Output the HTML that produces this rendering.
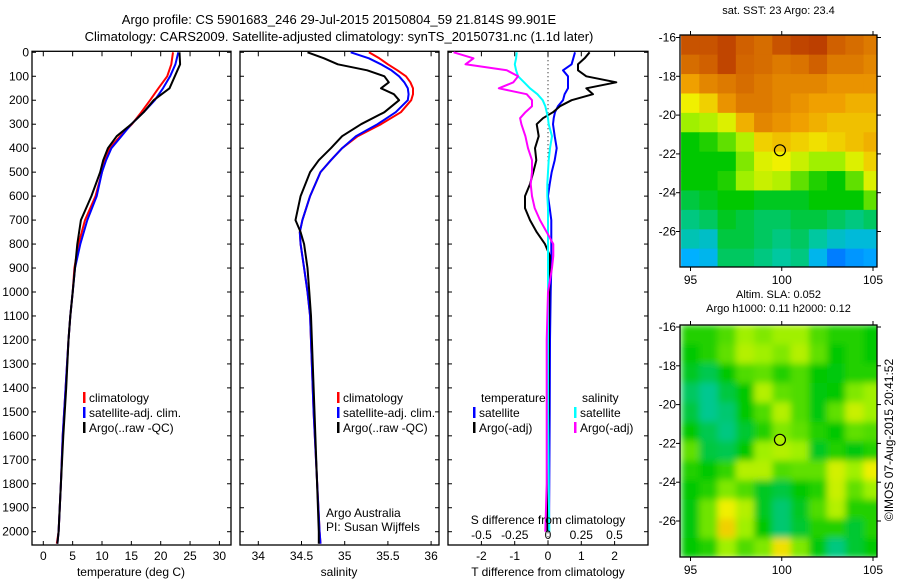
<!DOCTYPE html>
<html><head><meta charset="utf-8">
<style>
html,body{margin:0;padding:0;background:#fff;}
svg{display:block;font-family:"Liberation Sans",sans-serif;}
</style></head>
<body>
<svg id="chart" width="900" height="580" viewBox="0 0 900 580"></svg>
<script>
// ---- data ----
const tDepths = [0,50,100,150,200,250,300,350,400,450,500,600,700,800,900,1000,1100,1200,1400,1600,1800,2000,2050];
const tempClim = [22.1,21.8,21.1,19.6,18.2,16.7,15.1,13.1,11.3,10.5,10.0,8.9,7.1,6.0,5.3,5.0,4.6,4.3,3.8,3.3,3.0,2.6,2.3];
const tempSat  = [23.0,22.5,21.6,20.4,19.0,17.1,15.0,13.3,11.6,10.7,10.0,9.1,7.5,6.3,5.4,5.0,4.6,4.3,3.8,3.3,3.0,2.6,2.4];
const tempArgo = [23.2,23.3,22.4,21.5,18.8,17.1,15.0,12.5,11.0,10.2,9.7,8.2,6.4,5.8,5.4,5.0,4.6,4.3,3.9,3.4,3.0,2.6,2.4];

const sDepths = [0,25,50,75,100,125,150,175,200,250,300,350,400,450,500,600,700,750,800,900,1000,1100,1500,2000,2050];
const salClim = [35.28,35.40,35.50,35.61,35.71,35.76,35.79,35.79,35.77,35.65,35.42,35.15,34.97,34.84,34.72,34.60,34.51,34.48,34.49,34.53,34.57,34.60,34.64,34.71,34.72];
const salSat  = [35.07,35.28,35.42,35.54,35.63,35.69,35.73,35.74,35.73,35.59,35.38,35.13,34.97,34.84,34.72,34.60,34.51,34.48,34.49,34.53,34.57,34.60,34.64,34.71,34.72];
const salArgo = [34.57,34.76,34.92,35.26,35.46,35.51,35.42,35.57,35.63,35.46,35.19,34.97,34.84,34.70,34.60,34.49,34.43,34.49,34.53,34.57,34.59,34.61,34.65,34.70,34.70];

const dDepths = [0,25,50,75,100,125,150,175,200,225,250,275,300,350,400,450,500,550,600,650,700,750,800,850,900,1000,1200,1500,1800,2000];
const tDiffSat  = [0.81,0.76,0.71,0.45,0.6,0.6,0.6,0.5,0.45,0.3,0.21,0.17,0.15,0.2,0.26,0.2,0.11,0.05,0.0,0.05,0.1,0.1,0.1,0.1,0.1,0.08,0.06,0.05,0.04,0.03];
const tDiffArgo = [1.25,1.1,0.9,0.9,1.15,2.05,1.15,1.35,0.71,0.36,0.15,-0.15,-0.34,-0.28,-0.39,-0.35,-0.44,-0.54,-0.69,-0.69,-0.54,-0.34,-0.09,0.06,0.05,0.04,0.03,0.02,0.0,-0.02];
const sDiffSat  = [-0.235,-0.24,-0.25,-0.24,-0.225,-0.18,-0.135,-0.08,-0.04,-0.02,-0.01,0.0,0.005,0.03,0.015,0.005,0,-0.005,-0.005,0,0,0,0,0,0,0,0,0,0.005,0.01];
const sDiffArgo = [-0.71,-0.56,-0.62,-0.31,-0.225,-0.26,-0.37,-0.16,-0.12,-0.12,-0.17,-0.21,-0.2,-0.17,-0.15,-0.12,-0.12,-0.13,-0.12,-0.1,-0.06,-0.01,0.04,0.04,0.03,0.0,-0.01,-0.01,-0.01,-0.02];

const depthTicks = [0,100,200,300,400,500,600,700,800,900,1000,1100,1200,1300,1400,1500,1600,1700,1800,1900,2000];
const tempTicks = [0,5,10,15,20,25,30];
const salTicks = [34,34.5,35,35.5,36];
const salTickLabels = ["34","34.5","35","35.5","36"];
const tdTicks = [-2,-1,0,1,2];
const sdTicks = [-0.5,-0.25,0,0.25,0.5];
const sdTickLabels = ["-0.5","-0.25","0","0.25","0.5"];
const latTicks = [-16,-18,-20,-22,-24,-26];
const lonTicks = [95,100,105];

const sstGrid = [
[0.9,0.9,0.92,0.88,0.86,0.9,0.92,0.93,0.88,0.86,0.84],
[0.86,0.88,0.92,0.87,0.86,0.84,0.85,0.88,0.84,0.84,0.82],
[0.78,0.82,0.84,0.86,0.84,0.82,0.82,0.82,0.8,0.8,0.8],
[0.68,0.72,0.8,0.84,0.84,0.82,0.8,0.78,0.78,0.76,0.76],
[0.6,0.62,0.66,0.76,0.82,0.8,0.78,0.76,0.74,0.74,0.74],
[0.5,0.52,0.56,0.62,0.72,0.74,0.72,0.7,0.72,0.74,0.76],
[0.5,0.5,0.5,0.58,0.66,0.68,0.64,0.6,0.6,0.66,0.72],
[0.5,0.5,0.52,0.6,0.64,0.62,0.56,0.52,0.5,0.56,0.66],
[0.46,0.48,0.5,0.5,0.48,0.48,0.48,0.5,0.5,0.5,0.56],
[0.42,0.44,0.48,0.46,0.44,0.44,0.46,0.46,0.44,0.42,0.44],
[0.38,0.36,0.46,0.46,0.44,0.42,0.44,0.4,0.36,0.34,0.34],
[0.3,0.32,0.44,0.44,0.42,0.4,0.42,0.32,0.22,0.26,0.28]];
const slaGrid = [
[0.52,0.52,0.55,0.6,0.58,0.6,0.6,0.55,0.52,0.52,0.5],
[0.5,0.52,0.56,0.62,0.6,0.58,0.62,0.56,0.5,0.52,0.5],
[0.48,0.45,0.5,0.55,0.56,0.52,0.55,0.5,0.49,0.52,0.52],
[0.44,0.41,0.46,0.5,0.62,0.56,0.55,0.49,0.5,0.58,0.6],
[0.46,0.41,0.43,0.5,0.55,0.62,0.55,0.49,0.56,0.64,0.6],
[0.5,0.45,0.42,0.47,0.52,0.58,0.56,0.52,0.5,0.56,0.55],
[0.56,0.46,0.45,0.5,0.6,0.62,0.6,0.48,0.52,0.49,0.52],
[0.52,0.5,0.53,0.62,0.62,0.55,0.56,0.56,0.65,0.6,0.68],
[0.5,0.52,0.58,0.55,0.48,0.46,0.5,0.52,0.64,0.56,0.6],
[0.49,0.57,0.68,0.62,0.48,0.43,0.48,0.55,0.62,0.52,0.52],
[0.49,0.57,0.72,0.6,0.5,0.43,0.47,0.52,0.52,0.47,0.52],
[0.5,0.52,0.6,0.55,0.58,0.7,0.58,0.49,0.42,0.47,0.5]];
const gridLon0 = 94.5, gridLat0 = -15.9;
const argoLon = 99.901, argoLat = -21.814;

// ---- helpers ----
const NS = "http://www.w3.org/2000/svg";
const svg = document.getElementById("chart");
function mk(tag, attrs, parent){const e=document.createElementNS(NS,tag);for(const k in attrs)e.setAttribute(k,attrs[k]);(parent||svg).appendChild(e);return e;}
function txt(x,y,s,anchor,size,parent){const t=mk("text",{x:x,y:y,"text-anchor":anchor||"start","font-size":size||12,fill:"#000"},parent);t.textContent=s;return t;}

const yTop=52.3, yBot=545, pxPer=0.2397;
const yD = d => yTop + d*pxPer;
const xT = v => 43.3 + v*5.87;
const xS = v => 258.3 + (v-34)*86.4;
const xTD = v => 548 + v*33.3;
const xSD = v => 548 + v*133;

function frame(x0,x1,name){
  const r=mk("rect",{x:x0,y:yTop-1,width:x1-x0,height:yBot-yTop+1,fill:"none",stroke:"#000","stroke-width":1.3});
  
  
  depthTicks.forEach(d=>{
    mk("line",{x1:x0,x2:x0+4,y1:yD(d),y2:yD(d),stroke:"#000"});
    mk("line",{x1:x1-4,x2:x1,y1:yD(d),y2:yD(d),stroke:"#000"});
  });
}
function xticks(vals,labels,scale,ylab){
  vals.forEach((v,i)=>{
    const x=scale(v);
    mk("line",{x1:x,x2:x,y1:yTop-1,y2:yTop+4,stroke:"#000"});
    mk("line",{x1:x,x2:x,y1:yBot-4,y2:yBot,stroke:"#000"});
    if(ylab){const t=txt(x,ylab,labels[i],"middle",12);}
  });
}
function series(vals,depths,scale,color,name,w){
  const pts=[];
  for(let i=0;i<vals.length;i++) pts.push(scale(vals[i]).toFixed(1)+","+yD(depths[i]).toFixed(1));
  const p=mk("polyline",{points:pts.join(" "),fill:"none",stroke:color,"stroke-width":w||2,"stroke-linejoin":"round"});
  
  
}
function legend(x,y,color,label){
  const g=mk("g",{});
  
  
  mk("rect",{x:x,y:y-10,width:2.5,height:11,fill:color},g);
  txt(x+6,y,label,"start",12,g);
}

let t=txt(339,24,"Argo profile: CS 5901683_246 29-Jul-2015 20150804_59 21.814S 99.901E","middle",13);

t=txt(339,41,"Climatology: CARS2009. Satellite-adjusted climatology: synTS_20150731.nc (1.1d later)","middle",13);


frame(32,231,"temperature-panel");
depthTicks.forEach(d=>{const l=txt(29,yD(d)+4,String(d),"end",12);});
xticks(tempTicks,tempTicks.map(String),xT,560);
t=txt(131,576,"temperature (deg C)","middle",12);
series(tempClim,tDepths,xT,"#ff0000","temp-climatology-line");
series(tempSat,tDepths,xT,"#0000ff","temp-satellite-line");
series(tempArgo,tDepths,xT,"#000000","temp-argo-line");
legend(83,402,"#ff0000","climatology");
legend(83,417,"#0000ff","satellite-adj. clim.");
legend(83,432,"#000000","Argo(..raw -QC)");

frame(240,439,"salinity-panel");
xticks(salTicks,salTickLabels,xS,560);
t=txt(339,576,"salinity","middle",12);
series(salClim,sDepths,xS,"#ff0000","sal-climatology-line");
series(salSat,sDepths,xS,"#0000ff","sal-satellite-line");
series(salArgo,sDepths,xS,"#000000","sal-argo-line");
legend(337,402,"#ff0000","climatology");
legend(337,417,"#0000ff","satellite-adj. clim.");
legend(337,432,"#000000","Argo(..raw -QC)");
t=txt(326,517,"Argo Australia","start",12);
t=txt(326,531,"PI: Susan Wijffels","start",12);

frame(448,648,"difference-panel");
xticks(tdTicks,tdTicks.map(String),xTD,560);
t=txt(548,576,"T difference from climatology","middle",12);
mk("line",{x1:548,x2:548,y1:yTop,y2:yBot,stroke:"#000","stroke-dasharray":"1,3"});
series(tDiffSat,dDepths,xTD,"#0000ff","t-diff-satellite-line");
series(tDiffArgo,dDepths,xTD,"#000000","t-diff-argo-line");
series(sDiffSat,dDepths,xSD,"#00ffff","s-diff-satellite-line");
series(sDiffArgo,dDepths,xSD,"#ff00ff","s-diff-argo-line");
t=txt(548,524,"S difference from climatology","middle",12);
sdTicks.forEach((v,i)=>{const l=txt(xSD(v),539,sdTickLabels[i],"middle",12);});
t=txt(481,402,"temperature","start",12);
t=txt(582,402,"salinity","start",12);
legend(473,417,"#0000ff","satellite");
legend(473,432,"#000000","Argo(-adj)");
legend(574,417,"#00ffff","satellite");
legend(574,432,"#ff00ff","Argo(-adj)");

const cstops=[[0,[0,0,160]],[0.15,[0,80,255]],[0.3,[0,176,255]],[0.4,[0,200,160]],[0.5,[0,200,0]],[0.6,[160,240,0]],[0.68,[240,240,0]],[0.78,[240,160,0]],[0.88,[208,96,0]],[1,[160,16,0]]];
function cmap(v){
  for(let i=1;i<cstops.length;i++){
    if(v<=cstops[i][0]){const a=cstops[i-1],b=cstops[i],f=(v-a[0])/(b[0]-a[0]);
      return "rgb("+a[1].map((c,k)=>Math.round(c+(b[1][k]-c)*f)).join(",")+")";}
  }
  return "rgb(160,16,0)";
}
function drawMap(grid,x0,x1,y0,y1,lat16y,title1,title2,name,blur,markerFill){
  const xL = lon => 690.5 + (lon-95)*18.25;
  const yL = lat => lat16y + (-16-lat)*19.4;
  const id="clip"+name;
  const cp=mk("clipPath",{id:id}); mk("rect",{x:x0,y:y0,width:x1-x0,height:y1-y0},cp);
  const g=mk("g",{"clip-path":"url(#"+id+")"});
  
  
  const inner=mk("g",blur?{filter:"url(#blur)"}:{},g);
  for(let r=0;r<grid.length;r++)for(let c=0;c<grid[r].length;c++){
    const lon=gridLon0+c, lat=gridLat0-r;
    const cell=mk("rect",{x:xL(lon)-0.3,y:yL(lat)-0.3,width:18.25+0.6,height:19.4+0.6,fill:cmap(grid[r][c])},inner);
    
    
  }
  const fr=mk("rect",{x:x0,y:y0,width:x1-x0,height:y1-y0,fill:"none",stroke:"#000","stroke-width":1.3});
  
  
  latTicks.forEach(l=>{
    const y=yL(l);
    mk("line",{x1:x0-4,x2:x0,y1:y,y2:y,stroke:"#000"});
    mk("line",{x1:x1,x2:x1+4,y1:y,y2:y,stroke:"#000"});
    const lb=txt(x0-4,y+4,String(l),"end",12);
  });
  lonTicks.forEach(l=>{
    const x=xL(l);
    mk("line",{x1:x,x2:x,y1:y0-4,y2:y0,stroke:"#000"});
    mk("line",{x1:x,x2:x,y1:y1,y2:y1+4,stroke:"#000"});
    const lb=txt(x,y1+17,String(l),"middle",12);
  });
  const m=mk("circle",{cx:xL(argoLon),cy:yL(argoLat),r:5.5,fill:markerFill,stroke:"#000","stroke-width":1.2});
  
  
  let tt=txt((x0+x1)/2, title2?y0-27:y0-21, title1,"middle",11);
  if(title2){tt=txt((x0+x1)/2,y0-13,title2,"middle",11);}
}
const defs=mk("defs",{});
const f=mk("filter",{id:"blur",x:"-10%",y:"-10%",width:"120%",height:"120%"},defs);
mk("feGaussianBlur",{stdDeviation:3.5,edgeMode:"duplicate"},f);

drawMap(sstGrid,680,877,35,267,37.5,"sat. SST: 23 Argo: 23.4",null,"sst-map",false,"none");
drawMap(slaGrid,680,877,325,557,327,"Altim. SLA: 0.052","Argo h1000: 0.11 h2000: 0.12","sla-map",true,"#b0f000");

t=txt(0,0,"©IMOS 07-Aug-2015 20:41:52","middle",12);
t.setAttribute("transform","translate(893,440) rotate(-90)");

</script>
</body></html>
